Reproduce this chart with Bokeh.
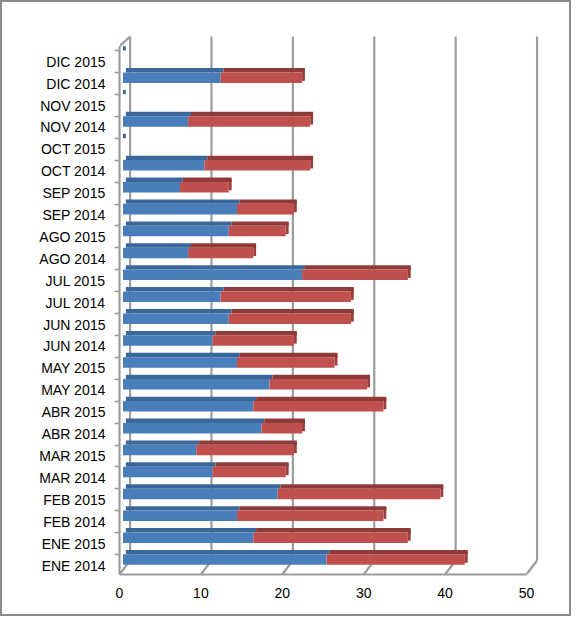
from bokeh.plotting import figure
from bokeh.models import Range1d, LinearAxis, FixedTicker, ColumnDataSource
from bokeh.transform import dodge
from bokeh.embed import file_html
from bokeh.resources import INLINE

# ---- data (bottom to top) ----
categories = ["ENE 2014", "ENE 2015", "FEB 2014", "FEB 2015", "MAR 2014", "MAR 2015",
              "ABR 2014", "ABR 2015", "MAY 2014", "MAY 2015", "JUN 2014", "JUN 2015",
              "JUL 2014", "JUL 2015", "AGO 2014", "AGO 2015", "SEP 2014", "SEP 2015",
              "OCT 2014", "OCT 2015", "NOV 2014", "NOV 2015", "DIC 2014", "DIC 2015"]
serie_azul = [25, 16, 14, 19, 11, 9, 17, 16, 18, 14, 11, 13, 12, 22, 8, 13, 14, 7, 10, 0, 8, 0, 12, 0]
serie_roja = [17, 19, 18, 20, 9, 12, 5, 16, 12, 12, 10, 15, 16, 13, 8, 7, 7, 6, 13, 0, 15, 0, 10, 0]
x_ticks = [0, 10, 20, 30, 40, 50]

SLANT = 0.35  # top-face shift of the 3D bars (x units)
idx = list(range(len(categories)))
total = [a + b for a, b in zip(serie_azul, serie_roja)]
src = ColumnDataSource(dict(
    idx=idx, cat=categories, azul=serie_azul, roja=serie_roja,
    zero=[0] * len(idx), total=total,
    top_l=[SLANT if t > 0 else 0 for t in total],
    azul_s=[a + SLANT for a in serie_azul],
    total_s=[t + SLANT for t in total],
    cap_r=[t + SLANT if t > 0 else t for t in total],
))

FONT = "Liberation Sans"
GRID = "#9c9c9c"

p = figure(width=571, height=616, output_backend="svg", toolbar_location=None,
           x_range=Range1d(0, 52.09), y_range=Range1d(-0.41, 24.47),
           x_axis_location=None, y_axis_location=None,
           min_border_left=117, min_border_right=30, min_border_top=27, min_border_bottom=44)
p.outline_line_color = None
p.background_fill_color = "white"
p.border_fill_color = "white"
p.styles = {"border": "2px solid #8c8c8c"}
for g in p.grid:
    g.visible = False

# bars plotted in their own (slightly deeper) plane
p.extra_x_ranges = {"bar": Range1d(-0.43, 51.66)}
p.extra_y_ranges = {"bar": Range1d(-0.78, 24.10)}

# ---- 3D frame decorations (derived from tick values) ----
DX = 1.3      # depth offset, x
YF = -0.41    # front floor
YB = 0.23     # back floor
YT = 24.15    # top of back wall
gx = [t + DX for t in x_ticks]
p.segment(x0=gx, y0=[YB] * len(gx), x1=gx, y1=[YT] * len(gx), line_color=GRID, line_width=2.2)
p.segment(x0=x_ticks, y0=[YF] * len(x_ticks), x1=gx, y1=[YB] * len(gx), line_color=GRID, line_width=2.2)
p.segment(x0=[0], y0=[23.7], x1=[DX], y1=[YT], line_color=GRID, line_width=2.2)

# ---- bars ----
BLUE, BLUE_TOP = "#4a7ebb", "#3b679b"
RED, RED_TOP, RED_END = "#c0504d", "#8f3b39", "#9b3f3c"
kw = dict(source=src, x_range_name="bar", y_range_name="bar", line_color=None)
# end face of red segment
p.hbar(y=dodge("idx", 0.02), left="total", right="cap_r", height=0.52, fill_color=RED_END, **kw)
# top faces (shifted for the 3D look)
p.hbar(y=dodge("idx", 0.24), left="top_l", right="azul_s", height=0.20, fill_color=BLUE_TOP, **kw)
p.hbar(y=dodge("idx", 0.24), left="azul_s", right="total_s", height=0.20, fill_color=RED_TOP, **kw)
# front faces
p.hbar(y=dodge("idx", -0.10), left="zero", right="azul", height=0.48, fill_color=BLUE, **kw)
p.hbar(y=dodge("idx", -0.10), left="azul", right="total", height=0.48, fill_color=RED, **kw)

# ---- axes ----
xaxis = LinearAxis(ticker=FixedTicker(ticks=x_ticks), bounds=(0, 50))
xaxis.axis_line_color = GRID
xaxis.axis_line_width = 2.2
xaxis.major_tick_out = 0
xaxis.major_tick_in = 0
xaxis.minor_tick_out = 0
xaxis.major_label_standoff = 13
xaxis.major_label_text_font = FONT
xaxis.major_label_text_font_size = "14px"
xaxis.major_label_text_color = "black"
p.add_layout(xaxis, "below")

yaxis = LinearAxis(ticker=FixedTicker(ticks=idx, minor_ticks=[i - 0.5 for i in range(len(idx) + 1)]),
                   bounds=(-0.41, 23.7))
yaxis.major_label_overrides = {i: c for i, c in enumerate(categories)}
yaxis.axis_line_color = GRID
yaxis.axis_line_width = 2.2
yaxis.major_tick_out = 0
yaxis.major_tick_in = 0
yaxis.minor_tick_out = 5
yaxis.minor_tick_in = 0
yaxis.minor_tick_line_color = GRID
yaxis.minor_tick_line_width = 1.5
yaxis.major_label_standoff = 9
yaxis.major_label_text_font = FONT
yaxis.major_label_text_font_size = "14px"
yaxis.major_label_text_color = "black"
p.add_layout(yaxis, "left")

open("out.html", "w").write(file_html(p, INLINE))
